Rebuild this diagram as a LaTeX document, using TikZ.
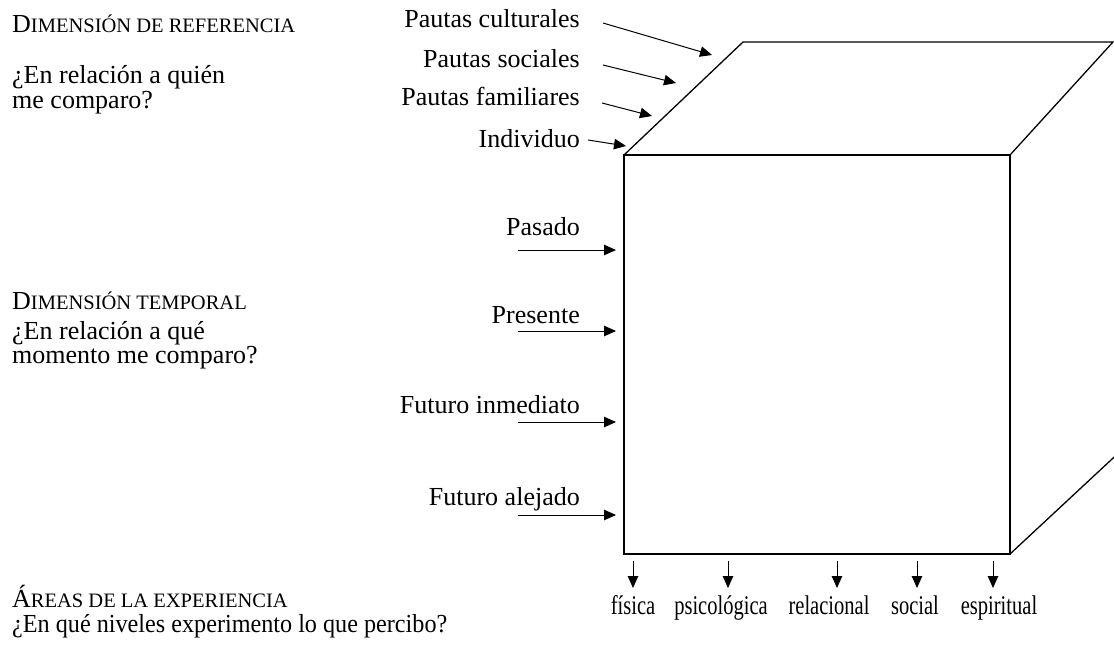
\documentclass[tikz,border=0pt]{standalone}
\usepackage{fontspec}
\setmainfont{Liberation Serif}
\newfontfamily\condfont[FakeStretch=0.76]{Liberation Serif}
\newfontfamily\narrowfont[FakeStretch=0.93]{Liberation Serif}
\usetikzlibrary{arrows.meta}
\newcommand\mysc[1]{{\fontsize{20.5}{21}\selectfont #1}}
\begin{document}
\begin{tikzpicture}[x=1pt,y=-1pt,
  lbl/.style={anchor=base east, inner sep=0pt, font=\fontsize{26}{26}\selectfont},
  txt/.style={anchor=base west, inner sep=0pt, font=\fontsize{26}{26}\selectfont},
  bot/.style={anchor=base, inner sep=0pt, font=\condfont\fontsize{27}{27}\selectfont},
  arr/.style={-{Triangle[length=12pt,width=10.5pt]}, line width=1pt},
  cube/.style={line width=1.3pt, line join=miter}]
\useasboundingbox (0,0) rectangle (1114,646);
% cube
\begin{scope}
\clip (0,0) rectangle (1114,646);
\coordinate (A) at (624,155);
\coordinate (B) at (1010,155);
\coordinate (C) at (1010,554);
\coordinate (D) at (624,554);
\coordinate (E) at (743,42);
\coordinate (F) at (1113,42);
\coordinate (G) at (1140,433);
\draw[cube] (A) -- (B) -- (C) -- (D) -- cycle;
\draw[cube] (A) -- (E) -- (F) -- (B);
\draw[cube] (C) -- (G);
\end{scope}
% left column texts
\node[txt] (h1) at (12,32) {D\mysc{IMENSIÓN DE REFERENCIA}};
\node[txt] (q1a) at (12,83) {¿En relación a quién};
\node[txt] (q1b) at (12,108) {me comparo?};
\node[txt] (h2) at (12,309) {D\mysc{IMENSIÓN TEMPORAL}};
\node[txt] (q2a) at (12,339) {¿En relación a qué};
\node[txt] (q2b) at (12,363) {momento me comparo?};
\node[txt] (h3) at (12,607) {Á\mysc{REAS DE LA EXPERIENCIA}};
\node[txt, font=\narrowfont\fontsize{26}{26}\selectfont] (q3) at (12,632) {¿En qué niveles experimento lo que percibo?};
% reference labels
\node[lbl] (pc) at (580,27) {Pautas culturales};
\node[lbl] (ps) at (580,67) {Pautas sociales};
\node[lbl] (pf) at (580,105) {Pautas familiares};
\node[lbl] (ind) at (580,147) {Individuo};
\coordinate (pc1) at (603,23);  \coordinate (pc2) at (712,55);
\coordinate (ps1) at (603,65);  \coordinate (ps2) at (676,83);
\coordinate (pf1) at (602,103); \coordinate (pf2) at (652,116);
\coordinate (in1) at (588,140); \coordinate (in2) at (626,146);
\draw[arr] (pc1) -- (pc2);
\draw[arr] (ps1) -- (ps2);
\draw[arr] (pf1) -- (pf2);
\draw[arr] (in1) -- (in2);
% temporal labels
\node[lbl] (pa) at (580,235) {Pasado};
\node[lbl] (pr) at (580,323) {Presente};
\node[lbl] (fi) at (580,413) {Futuro inmediato};
\node[lbl] (fa) at (580,505) {Futuro alejado};
\foreach \n/\y in {t1/250,t2/331,t3/422,t4/515}{
  \coordinate (\n s) at (518,\y);
  \coordinate (\n e) at (616,\y);
  \draw[arr] (\n s) -- (\n e);
}
% areas
\node[bot] (fis) at (633,614) {física};
\node[bot] (psi) at (721,614) {psicológica};
\node[bot] (rel) at (829,614) {relacional};
\node[bot] (soc) at (915,614) {social};
\node[bot] (esp) at (999,614) {espiritual};
\foreach \n/\x in {a1/633,a2/728,a3/837,a4/917,a5/993}{
  \coordinate (\n s) at (\x,561);
  \coordinate (\n e) at (\x,588);
  \draw[arr] (\n s) -- (\n e);
}
\end{tikzpicture}
\end{document}
